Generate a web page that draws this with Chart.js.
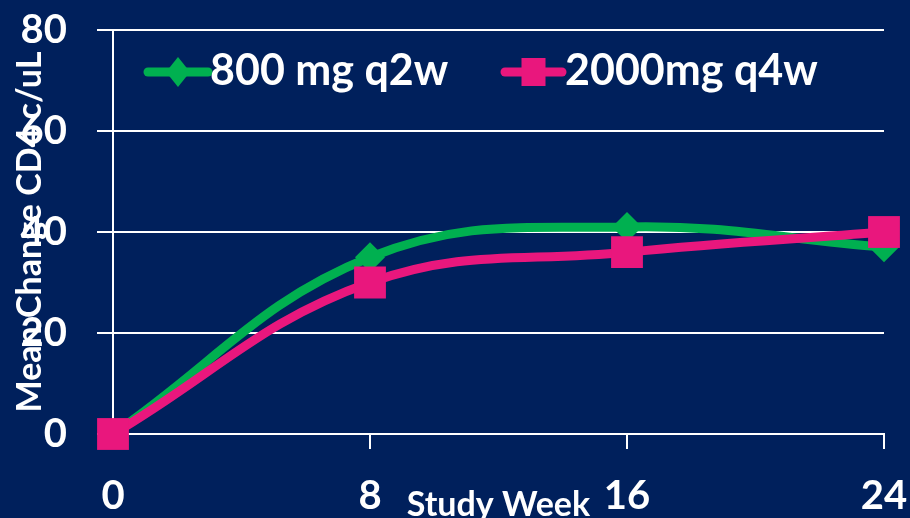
<!DOCTYPE html>
<html>
<head>
<meta charset="utf-8">
<script src="https://cdn.jsdelivr.net/npm/chart.js@4.4.1/dist/chart.umd.min.js"></script>
<style>
  html, body { margin: 0; padding: 0; background: #00205C; }
  #wrap { width: 910px; height: 518px; position: relative; }
</style>
</head>
<body>
<div id="wrap"><canvas id="cd4Chart"></canvas></div>
<script>
// chart values
const weeks = ['0', '8', '16', '24'];
const dose800q2w = [0, 35, 41, 37];
const dose2000q4w = [0, 30, 36, 40];
const seriesNames = ['800 mg q2w', '2000mg q4w'];
const yTicks = [0, 20, 40, 60, 80];

const GREEN = '#00B050';
const PINK = '#E9177D';
const WHITE = '#FFFFFF';
const FONT = 'Lato, "Open Sans", sans-serif';

// legend drawn by hand: line + marker + label, like the Excel one
const slideLegend = {
    id: 'slideLegend',
    afterDraw(chart) {
        const ctx = chart.ctx;
        const items = [
            { ds: chart.data.datasets[1], x0: 148, x1: 208, tx: 210 },
            { ds: chart.data.datasets[0], x0: 505, x1: 562, tx: 565 }
        ];
        const y = 72;
        ctx.save();
        items.forEach(function (it) {
            const cx = (it.x0 + it.x1) / 2;
            ctx.strokeStyle = it.ds.borderColor;
            ctx.lineWidth = 9;
            ctx.lineCap = 'round';
            ctx.beginPath();
            ctx.moveTo(it.x0, y);
            ctx.lineTo(it.x1, y);
            ctx.stroke();
            ctx.fillStyle = it.ds.borderColor;
            if (it.ds.pointStyle === 'rectRot') {
                ctx.beginPath();
                ctx.moveTo(cx, y - 15);
                ctx.lineTo(cx + 12, y);
                ctx.lineTo(cx, y + 15);
                ctx.lineTo(cx - 12, y);
                ctx.closePath();
                ctx.fill();
            } else {
                ctx.fillRect(cx - 12, y - 14, 24, 28);
            }
            ctx.fillStyle = WHITE;
            ctx.font = 'bold 43px ' + FONT;
            ctx.textAlign = 'left';
            ctx.textBaseline = 'middle';
            ctx.fillText(it.ds.label, it.tx, y - 1);
        });
        ctx.restore();
    }
};

const ctx = document.getElementById('cd4Chart').getContext('2d');
const chart = new Chart(ctx, {
    type: 'line',
    data: {
        labels: weeks,
        datasets: [
            {
                label: seriesNames[1],
                data: dose2000q4w,
                borderColor: PINK,
                backgroundColor: PINK,
                borderWidth: 9,
                tension: 0.4,
                pointStyle: 'rect',
                pointRadius: 22.5,
                pointBorderWidth: 0,
                clip: false,
                order: 0
            },
            {
                label: seriesNames[0],
                data: dose800q2w,
                borderColor: GREEN,
                backgroundColor: GREEN,
                borderWidth: 9,
                tension: 0.4,
                pointStyle: 'rectRot',
                pointRadius: 15,
                pointBorderWidth: 0,
                clip: false,
                order: 1
            }
        ]
    },
    options: {
        responsive: true,
        maintainAspectRatio: false,
        animation: false,
        layout: {
            padding: { top: 30, right: 26, left: 0, bottom: 0 }
        },
        plugins: {
            legend: { display: false },
            tooltip: { enabled: false }
        },
        scales: {
            x: {
                offset: false,
                afterFit: function (scale) {
                    scale.height = 84;
                    // labels may hang over the edges, don't shrink the plot for them
                    scale.paddingLeft = 0;
                    scale.paddingRight = 0;
                },
                grid: {
                    drawOnChartArea: false,
                    drawTicks: true,
                    tickLength: 15,
                    color: WHITE,
                    lineWidth: 2
                },
                border: { color: WHITE, width: 2 },
                ticks: {
                    color: WHITE,
                    padding: 23,
                    maxRotation: 0,
                    font: { family: FONT, size: 40, weight: 'bold' }
                },
                title: {
                    display: true,
                    text: 'Study Week',
                    color: WHITE,
                    padding: { top: 0, bottom: -4 },
                    font: { family: FONT, size: 34, weight: 'bold', lineHeight: 1 }
                }
            },
            y: {
                min: 0,
                max: 80,
                afterFit: function (scale) {
                    scale.width = 113;
                    scale.paddingTop = 0;
                    scale.paddingBottom = 0;
                },
                afterBuildTicks: function (scale) {
                    scale.ticks = yTicks.map(v => ({ value: v }));
                },
                grid: {
                    color: WHITE,
                    lineWidth: 2,
                    drawTicks: true,
                    tickLength: 16
                },
                border: { color: WHITE, width: 2 },
                ticks: {
                    color: WHITE,
                    padding: 30,
                    font: { family: FONT, size: 40, weight: 'bold' }
                },
                title: {
                    display: true,
                    text: 'Mean Change CD4 c/uL',
                    color: WHITE,
                    padding: { top: 10, bottom: 0 },
                    font: { family: FONT, size: 34, weight: 'bold' }
                }
            }
        }
    },
    plugins: [slideLegend]
});
</script>
</body>
</html>
